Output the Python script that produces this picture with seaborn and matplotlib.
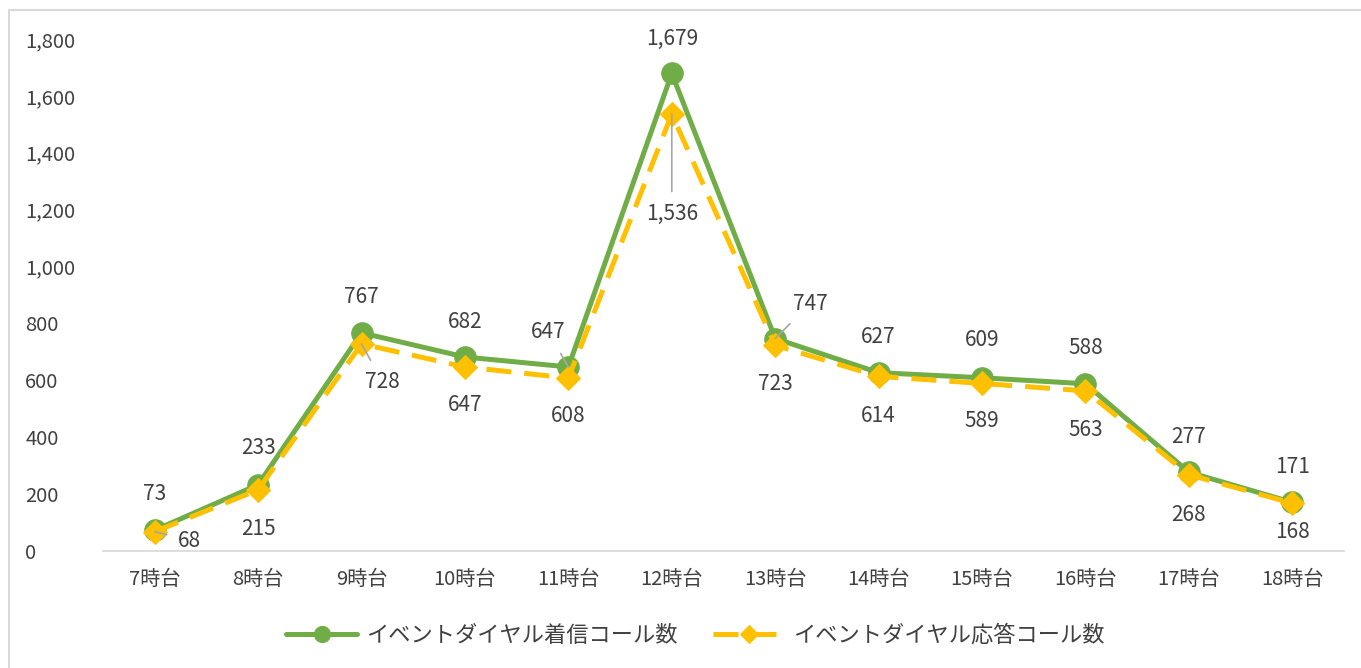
import numpy as np
import pandas as pd
import seaborn as sns
import matplotlib.pyplot as plt
from matplotlib.lines import Line2D

# data
hours = ["7時台", "8時台", "9時台", "10時台", "11時台", "12時台",
         "13時台", "14時台", "15時台", "16時台", "17時台", "18時台"]
incoming = [73, 233, 767, 682, 647, 1679, 747, 627, 609, 588, 277, 171]
answered = [68, 215, 728, 647, 608, 1536, 723, 614, 589, 563, 268, 168]
name_in = "イベントダイヤル着信コール数"
name_ans = "イベントダイヤル応答コール数"

# label offsets in pixels (dx, dy), leader line flag
off_in = [(0, 36), (0, 37), (0, 36), (0, 35), (-20, 35), (0, 34),
          (35, 35), (0, 36), (0, 38), (0, 36), (0, 35), (0, 35)]
lead_in = [False, False, False, False, True, False, True, False, False, False, False, False]
off_ans = [(35, -9), (0, -39), (21, -38), (0, -38), (0, -38), (0, -100),
           (0, -39), (0, -40), (0, -38), (0, -39), (0, -40), (0, -29)]
lead_ans = [True, False, True, False, False, True, False, False, False, False, False, False]

green = "#70AD47"
gold = "#FFC000"
txt = "#404040"

sns.set_theme(style="white")
plt.rcParams['font.family'] = ['Noto Sans CJK JP', 'DejaVu Sans']

df = pd.DataFrame({"pos": np.arange(len(hours)), "in": incoming, "ans": answered})

fig = plt.figure(figsize=(13.61, 6.68), dpi=100)
ax = fig.add_axes([103 / 1361, 117 / 668, 1241 / 1361, 512 / 668])

sns.lineplot(data=df, x="pos", y="in", ax=ax, color=green, linewidth=3.6,
             marker="o", markersize=15.5, markeredgecolor=green, label=name_in, zorder=2)
sns.lineplot(data=df, x="pos", y="ans", ax=ax, color=gold, linewidth=3.6,
             marker="D", markersize=12, markeredgecolor=gold, label=name_ans, zorder=3)
ax.lines[1].set_dashes([5, 2.6])

def put_labels(vals, offs, leads):
    for i, v in enumerate(vals):
        dx, dy = offs[i]
        ap = None
        if leads[i]:
            ap = dict(arrowstyle="-", color="#A6A6A6", lw=1.2, shrinkA=6, shrinkB=0)
        ax.annotate(f"{v:,}", xy=(i, v), xytext=(dx, dy), textcoords="offset pixels",
                    ha="center", va="center", fontsize=15, color=txt,
                    arrowprops=ap, zorder=5)

put_labels(incoming, off_in, lead_in)
put_labels(answered, off_ans, lead_ans)

ax.set_xlim(-0.5, len(hours) - 0.5)
ax.set_ylim(0, 1800)
ax.set_xticks(np.arange(len(hours)))
ax.set_xticklabels(hours)
ax.set_yticks(np.arange(0, 1801, 200))
ax.yaxis.set_major_formatter(plt.FuncFormatter(lambda v, p: f"{int(v):,}"))
ax.tick_params(axis="both", labelsize=14.5, colors=txt, length=0)
ax.tick_params(axis="x", pad=13)
ax.tick_params(axis="y", pad=56)
for lab in ax.get_yticklabels():
    lab.set_horizontalalignment("left")
ax.set_xlabel("")
ax.set_ylabel("")
for s in ["top", "right", "left"]:
    ax.spines[s].set_visible(False)
ax.spines["bottom"].set_color("#D9D9D9")
ax.spines["bottom"].set_linewidth(1.2)

handles, labels = ax.get_legend_handles_labels()
leg = fig.legend(handles, labels, loc="center", bbox_to_anchor=(0.511, 33 / 668),
                 ncol=2, frameon=False, fontsize=16, handlelength=3.2,
                 handletextpad=0.4, columnspacing=1.6, markerscale=0.75)
for t in leg.get_texts():
    t.set_color(txt)
ax.get_legend().remove()

# chart border (left and top edges visible)
fig.add_artist(Line2D([9 / 1361, 9 / 1361], [0, 658 / 668], color="#D9D9D9", lw=1.5))
fig.add_artist(Line2D([9 / 1361, 1], [658 / 668, 658 / 668], color="#D9D9D9", lw=1.5))

fig.savefig("out.png", dpi=100)
